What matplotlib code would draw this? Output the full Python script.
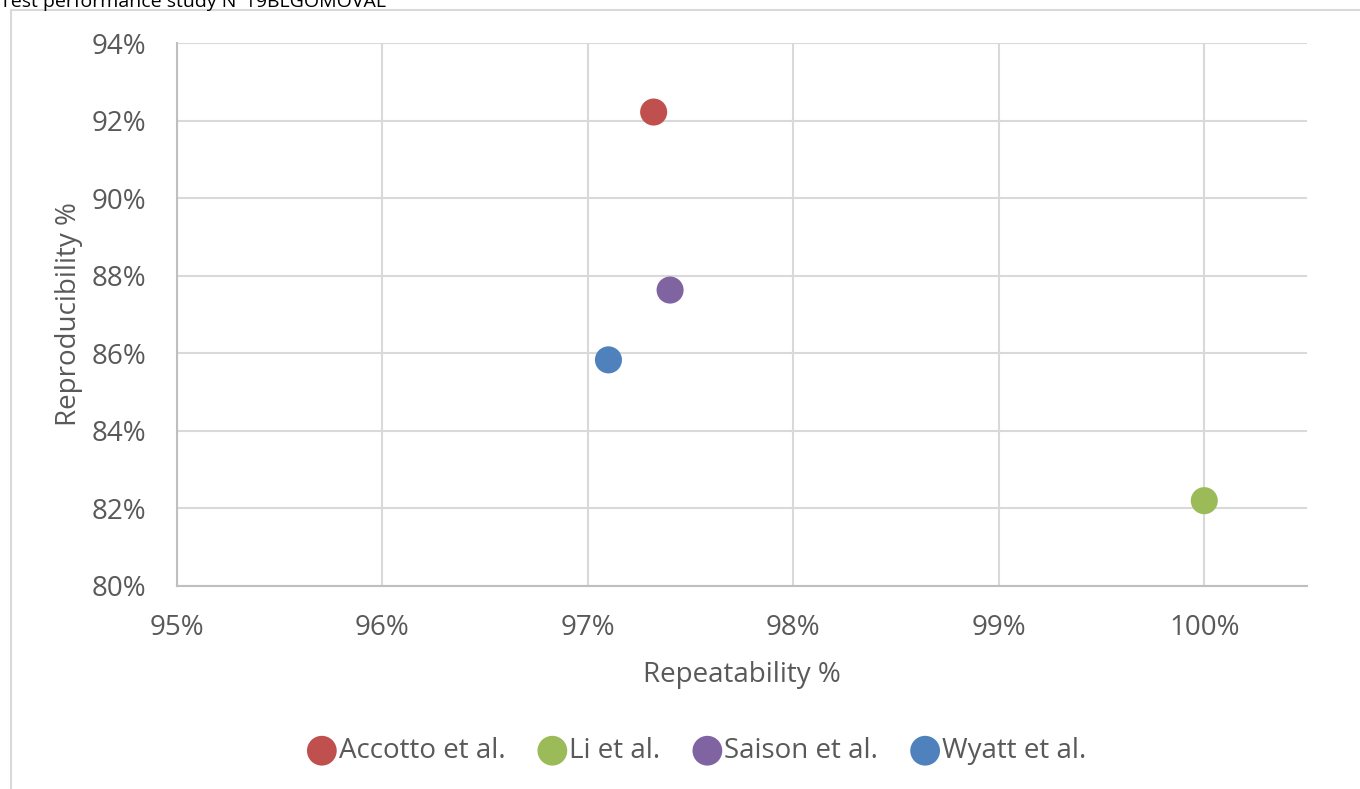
import matplotlib.pyplot as plt
from matplotlib.patches import Rectangle
from matplotlib.ticker import FuncFormatter

plt.rcParams['font.family'] = ['Open Sans', 'DejaVu Sans']

studies = ["Accotto et al.", "Li et al.", "Saison et al.", "Wyatt et al."]
repeatability = [97.32, 100.0, 97.40, 97.10]
reproducibility = [92.22, 82.20, 87.63, 85.83]
colors = ["#C0504D", "#9BBB59", "#8064A2", "#4F81BD"]

txt = "#595959"

fig = plt.figure(figsize=(13.6, 7.89), dpi=100)
ax = fig.add_axes([177/1360, 1-586/789, (1307-177)/1360, (586-43)/789])

# chart frame (cut off at right and bottom)
fig.patches.append(Rectangle((11/1360, -0.1), 1.2, 1.1 - 10/789, transform=fig.transFigure,
                             fill=False, edgecolor="#d9d9d9", linewidth=1.5))
fig.text(0.0, 1-7/789, "Test performance study N°19BLGOMOVAL", fontsize=14, color="#000000",
         ha="left", va="baseline")

for name, x, y, c in zip(studies, repeatability, reproducibility, colors):
    ax.scatter(x, y, s=380, color=c, label=name, zorder=3, edgecolors="none")

ax.set_xlim(95, 100.5)
ax.set_ylim(80, 94)
ax.set_xticks([95, 96, 97, 98, 99, 100])
ax.set_yticks([80, 82, 84, 86, 88, 90, 92, 94])
pct = FuncFormatter(lambda v, p: f"{v:.0f}%")
ax.xaxis.set_major_formatter(pct)
ax.yaxis.set_major_formatter(pct)
ax.grid(True, color="#d9d9d9", linewidth=1.5, zorder=0)
ax.set_axisbelow(True)
for s in ["top", "right"]:
    ax.spines[s].set_visible(False)
for s in ["left", "bottom"]:
    ax.spines[s].set_color("#bfbfbf")
    ax.spines[s].set_linewidth(1.5)
ax.tick_params(axis="x", length=0, labelsize=20, labelcolor=txt, pad=20)
ax.tick_params(axis="y", length=0, labelsize=20, labelcolor=txt, pad=22)
ax.set_xlabel("Repeatability %", fontsize=20, color=txt, labelpad=14)
ax.set_ylabel("Reproducibility %", fontsize=20, color=txt, labelpad=6)

fig.legend(loc="center", bbox_to_anchor=(697/1360, 1-751/789), ncol=4, frameon=False,
           fontsize=20, labelcolor=txt, handletextpad=0.1, columnspacing=1.2,
           handlelength=1.0, markerscale=1.1)

fig.savefig("out.png", dpi=100)
